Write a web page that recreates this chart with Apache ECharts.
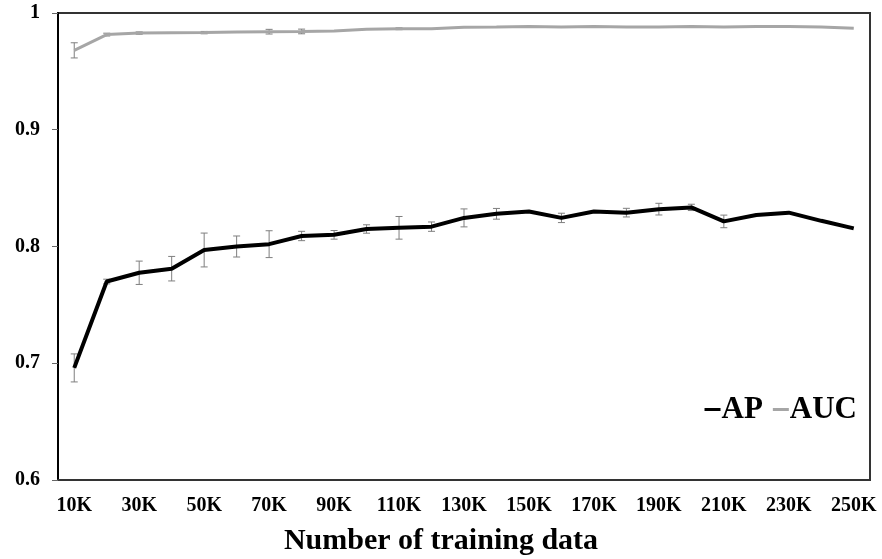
<!DOCTYPE html>
<html>
<head>
<meta charset="utf-8">
<script src="https://cdn.jsdelivr.net/npm/echarts@6/dist/echarts.min.js"></script>
<style>html,body{margin:0;padding:0;background:#fff}#c{width:882px;height:559px}</style>
</head>
<body>
<div id="c"></div>
<script>
var categories = ['10K','20K','30K','40K','50K','60K','70K','80K','90K','100K','110K','120K','130K','140K','150K','160K','170K','180K','190K','200K','210K','220K','230K','240K','250K'];
var apValues = [0.696,0.770,0.7775,0.781,0.797,0.800,0.802,0.809,0.810,0.815,0.816,0.817,0.8245,0.828,0.830,0.8245,0.830,0.829,0.832,0.8335,0.8215,0.827,0.829,0.822,0.8155];
var apErr = [0.012,0.002,0.010,0.0105,0.0145,0.009,0.0115,0.004,0.0037,0.0036,0.0097,0.004,0.0077,0.0046,0,0.004,0,0.0037,0.005,0.0027,0.0054,0,0,0,0];
var aucValues = [0.968,0.9815,0.9828,0.983,0.9832,0.9838,0.984,0.9842,0.9846,0.986,0.9865,0.9866,0.9878,0.988,0.9885,0.988,0.9885,0.988,0.988,0.9885,0.988,0.9885,0.9885,0.988,0.987];
var aucErr = [0.0065,0.0012,0.001,0,0.001,0,0.002,0.002,0,0,0.0008,0,0,0,0,0,0,0,0,0,0,0,0,0,0];
var yTicks = [0.6,0.7,0.8,0.9,1];

function errData(vals, errs){
  var out = [];
  for (var i = 0; i < vals.length; i++) {
    if (errs[i] > 0) out.push([i, vals[i] - errs[i], vals[i] + errs[i]]);
  }
  return out;
}
function renderErr(params, api){
  var x = api.value(0);
  var lo = api.coord([x, api.value(1)]);
  var hi = api.coord([x, api.value(2)]);
  var cw = 3.5;
  var st = {stroke: '#7f7f7f', lineWidth: 1};
  return {type: 'group', children: [
    {type: 'line', shape: {x1: lo[0], y1: lo[1], x2: hi[0], y2: hi[1]}, style: st},
    {type: 'line', shape: {x1: lo[0]-cw, y1: lo[1], x2: lo[0]+cw, y2: lo[1]}, style: st},
    {type: 'line', shape: {x1: hi[0]-cw, y1: hi[1], x2: hi[0]+cw, y2: hi[1]}, style: st}
  ]};
}

var font = "'Liberation Serif','Times New Roman',serif";
var chart = echarts.init(document.getElementById('c'));
chart.setOption({
  animation: false,
  backgroundColor: '#fff',
  title: {
    text: 'Number of training data',
    left: 'center',
    top: 521,
    textStyle: {fontFamily: font, fontWeight: 'bold', fontSize: 30, color: '#000'}
  },
  legend: {
    right: 20,
    top: 389,
    icon: 'rect',
    itemWidth: 16,
    itemHeight: 3,
    itemGap: 10,
    data: ['AP','AUC'],
    textStyle: {fontFamily: font, fontWeight: 'bold', fontSize: 31, color: '#000', padding: [0,0,0,-4]}
  },
  grid: {
    left: 58, right: 12, top: 13, bottom: 79,
    show: true, borderColor: '#333', borderWidth: 2
  },
  xAxis: {
    type: 'category',
    data: categories,
    boundaryGap: true,
    axisLine: {lineStyle: {color: '#333', width: 2}},
    axisTick: {interval: 0, length: 6, lineStyle: {color: '#bbb'}},
    axisLabel: {interval: 1, margin: 16, fontFamily: font, fontWeight: 'bold', fontSize: 20, color: '#000'}
  },
  yAxis: {
    type: 'value',
    min: yTicks[0], max: yTicks[yTicks.length-1], interval: 0.1,
    splitLine: {show: false},
    axisLine: {show: true, lineStyle: {color: '#000', width: 2}},
    axisTick: {show: true, length: 6, lineStyle: {color: '#666'}},
    axisLabel: {margin: 18, fontFamily: font, fontWeight: 'bold', fontSize: 20, color: '#000',
      formatter: function(v){ return String(Math.round(v*10)/10); }}
  },
  series: [
    {type: 'custom', name: 'AP err', renderItem: renderErr, data: errData(apValues, apErr), z: 1, silent: true},
    {type: 'custom', name: 'AUC err', renderItem: renderErr, data: errData(aucValues, aucErr), z: 1, silent: true},
    {type: 'line', name: 'AP', data: apValues, symbol: 'none', z: 3,
      lineStyle: {color: '#000', width: 4}, itemStyle: {color: '#000'}},
    {type: 'line', name: 'AUC', data: aucValues, symbol: 'none', z: 2,
      lineStyle: {color: '#a6a6a6', width: 3}, itemStyle: {color: '#a6a6a6'}}
  ]
});
</script>
</body>
</html>
